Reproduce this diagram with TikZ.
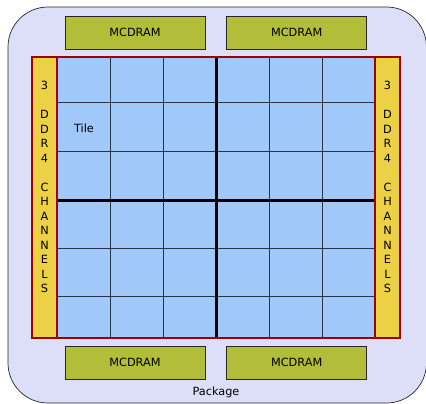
\documentclass[tikz,border=0pt]{standalone}
\usepackage{fontspec}
\setmainfont{DejaVu Sans}
\usetikzlibrary{positioning}
\definecolor{pkgfill}{HTML}{DCDFF7}
\definecolor{memfill}{HTML}{B2BD39}
\definecolor{tilefill}{HTML}{A0C8F8}
\definecolor{ddrfill}{HTML}{ECD046}
\definecolor{meshred}{HTML}{A00000}
\definecolor{gridline}{HTML}{2A3344}

\begin{document}
\begin{tikzpicture}[x=1pt,y=-1pt,every node/.style={font=\fontsize{11.3}{14.5}\selectfont,text=black},
  mcdram/.style={draw=black!85,line width=0.7pt,fill=memfill,minimum width=140pt,minimum height=33pt,inner sep=0pt},
  ddr/.style={align=center,inner sep=0pt}]
  \useasboundingbox (0,0) rectangle (426,404);
  % package
  \draw[fill=pkgfill,draw=black!85,line width=0.7pt,rounded corners=40pt] (8,7) rectangle (426.5,403);
  \node (pkg) at (216,392) {Package};
  % memory stacks
  \node[mcdram] (mcTL) at (135,32.5) {MCDRAM};
  \node[mcdram,right=21pt of mcTL] (mcTR) {MCDRAM};
  \node[mcdram] (mcBL) at (135,362.5) {MCDRAM};
  \node[mcdram,right=21pt of mcBL] (mcBR) {MCDRAM};
  % tiles
  \fill[tilefill] (56,57) rectangle (375,338);
  \foreach \x in {110,163,269,322}{\draw[gridline,line width=0.8pt] (\x,57)--(\x,338);}
  \foreach \y in {102.5,151,248,296}{\draw[gridline,line width=0.8pt] (56,\y)--(375,\y);}
  \draw[line width=3pt] (216,57)--(216,338); \draw[line width=3pt] (56,200)--(375,200);
  \node (tile) at (84,128) {Tile};
  % ddr channels
  \foreach \x/\n in {32/ddrL,375/ddrR}{
    \draw[fill=ddrfill,draw=meshred,line width=1.8pt] (\x,57) rectangle +(25,281);
    \node[ddr] (\n) at (\x+12.5,187) {3\\ \\D\\D\\R\\4\\ \\C\\H\\A\\N\\N\\E\\L\\S};
  }
  \draw[meshred,line width=1.8pt] (32,57) rectangle (400,338);
\end{tikzpicture}
\end{document}
